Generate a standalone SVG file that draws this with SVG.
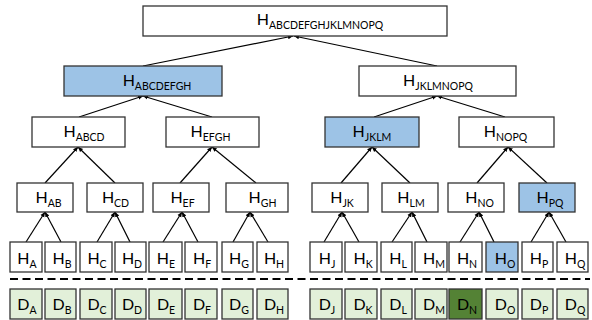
<svg xmlns="http://www.w3.org/2000/svg" width="592" height="320" viewBox="0 0 592 320">
<defs>
<style>
.b{fill:#fff;stroke:#333;stroke-width:1.3}
.bl{fill:#9dc3e6;stroke:#333;stroke-width:1.3}
.g{fill:#e2f0d9;stroke:#333;stroke-width:1.3}
.dg{fill:#548235;stroke:#333;stroke-width:1.3}
text{font-family:Lato,"Liberation Sans",sans-serif;font-size:16px;fill:#000;text-anchor:middle}
.s{font-size:10.5px}
.c line{stroke:#000;stroke-width:1.2;marker-end:url(#ah)}
.dash{stroke:#000;stroke-width:2;stroke-dasharray:8 4.5}
</style>
<marker id="ah" markerUnits="userSpaceOnUse" markerWidth="6" markerHeight="6" refX="5" refY="3" orient="auto">
<path d="M0,0.8 L5,3 L0,5.2 Z" fill="#000"/>
</marker>
</defs>
<rect width="592" height="320" fill="#fff"/>

<g id="connectors" class="c">
<line x1="143" y1="66" x2="293" y2="36"/>
<line x1="437" y1="66" x2="294" y2="36"/>
<line x1="79" y1="117" x2="143" y2="96"/>
<line x1="212" y1="117" x2="143" y2="96"/>
<line x1="374" y1="117" x2="437" y2="96"/>
<line x1="505" y1="117" x2="437" y2="96"/>
<line x1="45" y1="183" x2="78" y2="147"/>
<line x1="115" y1="183" x2="78" y2="147"/>
<line x1="180" y1="183" x2="212" y2="147"/>
<line x1="256" y1="183" x2="212" y2="147"/>
<line x1="341" y1="183" x2="372" y2="147"/>
<line x1="410" y1="183" x2="372" y2="147"/>
<line x1="477" y1="183" x2="508" y2="147"/>
<line x1="547" y1="183" x2="508" y2="147"/>
<line x1="26" y1="242" x2="45" y2="212"/>
<line x1="61" y1="242" x2="45" y2="212"/>
<line x1="97" y1="242" x2="115" y2="212"/>
<line x1="130" y1="242" x2="115" y2="212"/>
<line x1="163" y1="242" x2="182" y2="212"/>
<line x1="198" y1="242" x2="182" y2="212"/>
<line x1="233" y1="242" x2="250" y2="212"/>
<line x1="268" y1="242" x2="250" y2="212"/>
<line x1="324" y1="242" x2="342" y2="212"/>
<line x1="359" y1="242" x2="342" y2="212"/>
<line x1="392" y1="242" x2="412" y2="212"/>
<line x1="427" y1="242" x2="412" y2="212"/>
<line x1="460" y1="242" x2="479" y2="212"/>
<line x1="494" y1="242" x2="479" y2="212"/>
<line x1="531" y1="242" x2="549" y2="212"/>
<line x1="566" y1="242" x2="549" y2="212"/>
</g>

<line class="dash" x1="10" y1="279" x2="590" y2="279"/>

<g id="n-ABCDEFGHJKLMNOPQ"><rect class="b" x="143" y="6" width="304" height="30"/><text x="320" y="25">H<tspan class="s" dy="3.5">ABCDEFGHJKLMNOPQ</tspan></text></g>
<g id="n-ABCDEFGH"><rect class="bl" x="64" y="66" width="158" height="30"/><text x="157" y="86">H<tspan class="s" dy="3.5">ABCDEFGH</tspan></text></g>
<g id="n-JKLMNOPQ"><rect class="b" x="359" y="66" width="157" height="30"/><text x="438" y="86">H<tspan class="s" dy="3.5">JKLMNOPQ</tspan></text></g>
<g id="n-ABCD"><rect class="b" x="32" y="117" width="93" height="30"/><text x="84" y="137">H<tspan class="s" dy="3.5">ABCD</tspan></text></g>
<g id="n-EFGH"><rect class="b" x="166" y="117" width="93" height="30"/><text x="210.5" y="137">H<tspan class="s" dy="3.5">EFGH</tspan></text></g>
<g id="n-JKLM"><rect class="bl" x="325" y="117" width="94" height="30"/><text x="372" y="137">H<tspan class="s" dy="3.5">JKLM</tspan></text></g>
<g id="n-NOPQ"><rect class="b" x="459" y="117" width="95" height="30"/><text x="505.5" y="137">H<tspan class="s" dy="3.5">NOPQ</tspan></text></g>

<g id="n-AB"><rect class="b" x="17" y="183" width="56" height="29"/><text x="48.5" y="203">H<tspan class="s" dy="3.5">AB</tspan></text></g>
<g id="n-CD"><rect class="b" x="87" y="183" width="56" height="29"/><text x="115.5" y="203">H<tspan class="s" dy="3.5">CD</tspan></text></g>
<g id="n-EF"><rect class="b" x="153" y="183" width="56" height="29"/><text x="182.5" y="203">H<tspan class="s" dy="3.5">EF</tspan></text></g>
<g id="n-GH"><rect class="b" x="226" y="183" width="62" height="29"/><text x="262.5" y="203">H<tspan class="s" dy="3.5">GH</tspan></text></g>
<g id="n-JK"><rect class="b" x="312" y="183" width="56" height="29"/><text x="342" y="203">H<tspan class="s" dy="3.5">JK</tspan></text></g>
<g id="n-LM"><rect class="b" x="382" y="183" width="56" height="29"/><text x="411" y="203">H<tspan class="s" dy="3.5">LM</tspan></text></g>
<g id="n-NO"><rect class="b" x="448" y="183" width="56" height="29"/><text x="479.5" y="203">H<tspan class="s" dy="3.5">NO</tspan></text></g>
<g id="n-PQ"><rect class="bl" x="519" y="183" width="56" height="29"/><text x="550" y="203">H<tspan class="s" dy="3.5">PQ</tspan></text></g>

<g id="n-HA"><rect class="b" x="10" y="242" width="32" height="30"/><text x="27" y="264">H<tspan class="s" dy="3.5">A</tspan></text></g>
<g id="n-HB"><rect class="b" x="45" y="242" width="31" height="30"/><text x="62" y="264">H<tspan class="s" dy="3.5">B</tspan></text></g>
<g id="n-HC"><rect class="b" x="80" y="242" width="32" height="30"/><text x="97" y="264">H<tspan class="s" dy="3.5">C</tspan></text></g>
<g id="n-HD"><rect class="b" x="115" y="242" width="31" height="30"/><text x="132" y="264">H<tspan class="s" dy="3.5">D</tspan></text></g>
<g id="n-HE"><rect class="b" x="149" y="242" width="33" height="30"/><text x="166" y="264">H<tspan class="s" dy="3.5">E</tspan></text></g>
<g id="n-HF"><rect class="b" x="185" y="242" width="32" height="30"/><text x="202" y="264">H<tspan class="s" dy="3.5">F</tspan></text></g>
<g id="n-HG"><rect class="b" x="222" y="242" width="31" height="30"/><text x="239" y="264">H<tspan class="s" dy="3.5">G</tspan></text></g>
<g id="n-HH"><rect class="b" x="257" y="242" width="31" height="30"/><text x="274" y="264">H<tspan class="s" dy="3.5">H</tspan></text></g>
<g id="n-HJ"><rect class="b" x="310" y="242" width="32" height="30"/><text x="327" y="264">H<tspan class="s" dy="3.5">J</tspan></text></g>
<g id="n-HK"><rect class="b" x="345" y="242" width="32" height="30"/><text x="363" y="264">H<tspan class="s" dy="3.5">K</tspan></text></g>
<g id="n-HL"><rect class="b" x="381" y="242" width="31" height="30"/><text x="398" y="264">H<tspan class="s" dy="3.5">L</tspan></text></g>
<g id="n-HM"><rect class="b" x="415" y="242" width="32" height="30"/><text x="434" y="264">H<tspan class="s" dy="3.5">M</tspan></text></g>
<g id="n-HN"><rect class="b" x="449" y="242" width="33" height="30"/><text x="467" y="264">H<tspan class="s" dy="3.5">N</tspan></text></g>
<g id="n-HO"><rect class="bl" x="486" y="242" width="32" height="30"/><text x="505" y="264">H<tspan class="s" dy="3.5">O</tspan></text></g>
<g id="n-HP"><rect class="b" x="522" y="242" width="31" height="30"/><text x="539" y="264">H<tspan class="s" dy="3.5">P</tspan></text></g>
<g id="n-HQ"><rect class="b" x="557" y="242" width="31" height="30"/><text x="575" y="264">H<tspan class="s" dy="3.5">Q</tspan></text></g>

<g id="n-DA"><rect class="g" x="10" y="289" width="32" height="30"/><text x="27" y="310">D<tspan class="s" dy="3.5">A</tspan></text></g>
<g id="n-DB"><rect class="g" x="45" y="289" width="31" height="30"/><text x="62" y="310">D<tspan class="s" dy="3.5">B</tspan></text></g>
<g id="n-DC"><rect class="g" x="80" y="289" width="32" height="30"/><text x="97" y="310">D<tspan class="s" dy="3.5">C</tspan></text></g>
<g id="n-DD"><rect class="g" x="115" y="289" width="31" height="30"/><text x="132" y="310">D<tspan class="s" dy="3.5">D</tspan></text></g>
<g id="n-DE"><rect class="g" x="149" y="289" width="33" height="30"/><text x="166" y="310">D<tspan class="s" dy="3.5">E</tspan></text></g>
<g id="n-DF"><rect class="g" x="185" y="289" width="32" height="30"/><text x="202" y="310">D<tspan class="s" dy="3.5">F</tspan></text></g>
<g id="n-DG"><rect class="g" x="222" y="289" width="31" height="30"/><text x="239" y="310">D<tspan class="s" dy="3.5">G</tspan></text></g>
<g id="n-DH"><rect class="g" x="257" y="289" width="31" height="30"/><text x="274" y="310">D<tspan class="s" dy="3.5">H</tspan></text></g>
<g id="n-DJ"><rect class="g" x="310" y="289" width="32" height="30"/><text x="327" y="310">D<tspan class="s" dy="3.5">J</tspan></text></g>
<g id="n-DK"><rect class="g" x="345" y="289" width="32" height="30"/><text x="363" y="310">D<tspan class="s" dy="3.5">K</tspan></text></g>
<g id="n-DL"><rect class="g" x="381" y="289" width="31" height="30"/><text x="398" y="310">D<tspan class="s" dy="3.5">L</tspan></text></g>
<g id="n-DM"><rect class="g" x="415" y="289" width="32" height="30"/><text x="434" y="310">D<tspan class="s" dy="3.5">M</tspan></text></g>
<g id="n-DN"><rect class="dg" x="449" y="289" width="33" height="30"/><text x="467" y="310">D<tspan class="s" dy="3.5">N</tspan></text></g>
<g id="n-DO"><rect class="g" x="486" y="289" width="32" height="30"/><text x="505" y="310">D<tspan class="s" dy="3.5">O</tspan></text></g>
<g id="n-DP"><rect class="g" x="522" y="289" width="31" height="30"/><text x="539" y="310">D<tspan class="s" dy="3.5">P</tspan></text></g>
<g id="n-DQ"><rect class="g" x="557" y="289" width="31" height="30"/><text x="575" y="310">D<tspan class="s" dy="3.5">Q</tspan></text></g>
</svg>
